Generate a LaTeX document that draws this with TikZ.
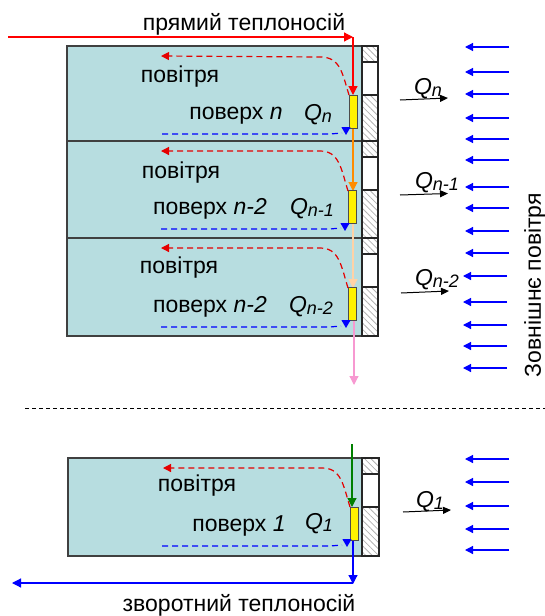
\documentclass[tikz,border=0pt]{standalone}
\usepackage{fontspec}
\setmainfont{Liberation Sans}
\usetikzlibrary{arrows.meta,patterns.meta,positioning}
\definecolor{roomteal}{HTML}{B7DDE0}
\newcommand{\heatq}[1]{{\itshape Q\fontsize{18}{18}\selectfont\raisebox{-2pt}{#1}}}

\begin{document}
\begin{tikzpicture}[
    x=1pt, y=-1pt,
    font=\fontsize{23}{25}\selectfont,
    floorbox/.style={fill=roomteal, draw=black!75, line width=1.2pt},
    wallhatch/.style={pattern={Lines[angle=-45, distance=4.5pt, line width=0.8pt]}, pattern color=black!30, draw=black!85, line width=1.2pt},
    windowbox/.style={fill=white, draw=black!85, line width=1.2pt},
    heater/.style={fill=yellow, draw=black!70, line width=1pt},
    airred/.style={draw=red!90!black, dash pattern=on 6pt off 4pt, line width=1.2pt, -{Stealth[length=8pt,width=8pt,inset=0pt]}},
    airblue/.style={draw=blue, dash pattern=on 6pt off 4pt, line width=1.2pt},
    tipblue/.style={draw=blue, line width=1pt, -{Stealth[length=8pt,width=9pt,inset=0pt]}},
    pipe/.style={line width=1.2pt, -{Stealth[length=9pt,width=9pt,inset=0pt]}},
    outdoor/.style={draw=blue, line width=1.2pt, -{Stealth[length=8pt,width=8pt,inset=0pt]}},
    heatflow/.style={draw=black, line width=1pt, -{Stealth[length=8pt,width=7pt,inset=0pt]}}
]
    \useasboundingbox (0,0) rectangle (545,616);

    % Floors of the upper block
    \draw[floorbox] (67,46) rectangle (362,141);
    \draw[floorbox] (67,141) rectangle (362,238);
    \draw[floorbox] (67,238) rectangle (362,336);
    % Wall with windows
    \draw[wallhatch] (362,46) rectangle (378,62);
    \draw[windowbox] (362,62) rectangle (378,95);
    \draw[wallhatch] (362,95) rectangle (378,141);
    \draw[wallhatch] (362,141) rectangle (378,157);
    \draw[windowbox] (362,157) rectangle (378,190);
    \draw[wallhatch] (362,190) rectangle (378,238);
    \draw[wallhatch] (362,238) rectangle (378,254);
    \draw[windowbox] (362,254) rectangle (378,287);
    \draw[wallhatch] (362,287) rectangle (378,336);

    % Lower floor
    \draw[floorbox] (68,458) rectangle (362,556);
    \draw[wallhatch] (362,458) rectangle (379,474);
    \draw[windowbox] (362,474) rectangle (379,507);
    \draw[wallhatch] (362,507) rectangle (379,556);

    % Supply pipe and risers between heaters
    \draw[pipe, red] (8,37) -- (353,37);
    \draw[pipe, red] (353,37) -- (353,95);
    \draw[pipe, orange!90!yellow] (353,128) -- (353,191);
    \draw[pipe, orange!35] (353,223) -- (353,288);
    \draw[pipe, magenta!40] (354,320) -- (354,385);
    \draw[pipe, green!50!black] (352,444) -- (352,507);
    \draw[pipe, blue] (353,540) -- (353,584);
    \draw[pipe, blue] (353,583) -- (12,583);

    % Heaters
    \node[heater, minimum width=8pt, minimum height=33pt, inner sep=0pt] (heatern) at (353,111.5) {};
    \node[heater, minimum width=8pt, minimum height=33pt, inner sep=0pt] (heaterb) at (352,207) {};
    \node[heater, minimum width=8pt, minimum height=33pt, inner sep=0pt] (heaterc) at (352.5,304) {};
    \node[heater, minimum width=8pt, minimum height=33pt, inner sep=0pt] (heatera) at (354,523.5) {};

    % Room air, warm stream
    \draw[airred] (349,95) .. controls (342,72) and (340,57) .. (320,57) -- (161,56);
    \draw[airred] (348,191) .. controls (341,168) and (339,151) .. (320,151) -- (161,151);
    \draw[airred] (348,288) .. controls (341,265) and (339,248) .. (320,248) -- (161,248);
    \draw[airred] (350,507) .. controls (343,484) and (341,468) .. (322,468) -- (163,468);

    % Room air, cool stream
    \draw[airblue] (162,134) -- (330,134) -- (342,133);
    \draw[tipblue] (346,127) -- (346,135);
    \draw[airblue] (161,229) -- (330,229) -- (341,228);
    \draw[tipblue] (345,223) -- (345,231);
    \draw[airblue] (161,327) -- (330,327) -- (341,326);
    \draw[tipblue] (346,320) -- (346,328);
    \draw[airblue] (162,546) -- (330,546) -- (342,545);
    \draw[tipblue] (347,539) -- (347,547);

    % Outdoor air
    \draw[outdoor] (509,47) -- (465,47);
    \draw[outdoor] (509,72) -- (465,72);
    \draw[outdoor] (509,94) -- (465,94);
    \draw[outdoor] (509,118) -- (465,118);
    \draw[outdoor] (509,139) -- (465,139);
    \draw[outdoor] (509,160) -- (465,160);
    \draw[outdoor] (509,187) -- (465,187);
    \draw[outdoor] (509,208) -- (465,208);
    \draw[outdoor] (509,231) -- (465,231);
    \draw[outdoor] (509,253) -- (465,253);
    \draw[outdoor] (507,276) -- (463,276);
    \draw[outdoor] (507,302) -- (463,302);
    \draw[outdoor] (507,325) -- (463,325);
    \draw[outdoor] (507,346) -- (463,346);
    \draw[outdoor] (507,368) -- (463,368);
    \draw[outdoor] (509,459) -- (465,459);
    \draw[outdoor] (509,482) -- (465,482);
    \draw[outdoor] (509,506) -- (465,506);
    \draw[outdoor] (509,529) -- (465,529);
    \draw[outdoor] (509,550) -- (465,550);

    % Heat losses
    \draw[heatflow] (400,100) -- (448,98);
    \draw[heatflow] (400,195) -- (448,193.5);
    \draw[heatflow] (401,293) -- (449,291);
    \draw[heatflow] (403,512) -- (451,510);

    % Section break
    \draw[black, dash pattern=on 4pt off 3pt, line width=1pt] (25,408) -- (545,408);

    % Labels
    \node (supply) at (244,24) {прямий теплоносій};
    \node (return) at (239,605) {зворотний теплоносій};
    \node[rotate=90] (outside) at (535,285) {Зовнішнє повітря};

    \node (airn) at (180,77) {повітря};
    \node (airb) at (181,173) {повітря};
    \node (airc) at (179,268) {повітря};
    \node (aira) at (197,486) {повітря};

    \node (floorn) at (236,116) {поверх {\itshape n}};
    \node (floorb) at (210,209) {поверх {\itshape n-2}};
    \node (floorc) at (210,307) {поверх {\itshape n-2}};
    \node (floora) at (239,526) {поверх {\itshape 1}};

    \node (qroomn) at (318,115) {\heatq{n}};
    \node (qroomb) at (312,209) {\heatq{n-1}};
    \node (qroomc) at (311,307) {\heatq{n-2}};
    \node (qrooma) at (319,524) {\heatq{1}};

    \node (qlossn) at (428,89) {\heatq{n}};
    \node (qlossb) at (437,183) {\heatq{n-1}};
    \node (qlossc) at (437,280) {\heatq{n-2}};
    \node (qlossa) at (430,502) {\heatq{1}};
\end{tikzpicture}
\end{document}
